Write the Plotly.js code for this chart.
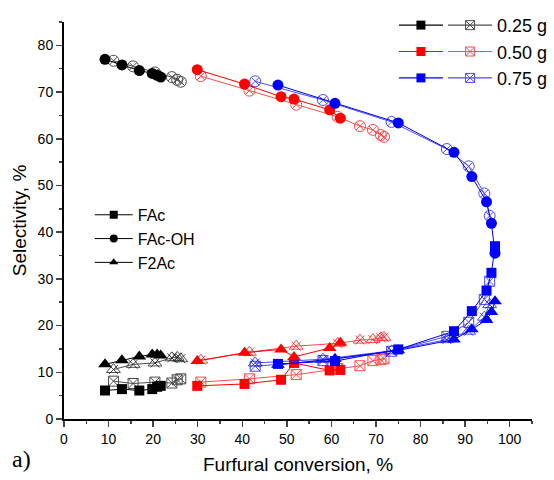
<!DOCTYPE html>
<html><head><meta charset="utf-8">
<script src="https://cdn.plot.ly/plotly-3.0.1.min.js"></script>
<style>body{margin:0;background:#fff}#c{width:554px;height:480px}</style>
</head><body><div id="c"></div>
<script>
// 0.25 g
const x025f = [9.2, 13.0, 16.9, 19.8, 20.9, 21.7];
const fac025f = [6.1, 6.4, 6.1, 6.4, 6.9, 7.1];
const faoh025f = [77.0, 75.8, 74.6, 74.0, 73.6, 73.2];
const f2ac025f = [11.7, 12.6, 13.4, 13.8, 13.8, 13.6];
const x025o = [11.1, 15.5, 20.4, 24.2, 25.4, 26.2];
const fac025o = [8.1, 7.6, 7.9, 7.7, 8.4, 8.6];
const faoh025o = [76.7, 75.5, 74.2, 73.2, 72.6, 72.2];
const f2ac025o = [10.6, 11.7, 12.0, 13.1, 13.2, 12.9];
// 0.50 g
const x050f = [29.9, 40.5, 48.7, 51.6, 59.6, 62.0];
const fac050f = [7.1, 7.5, 8.4, 12.0, 10.4, 10.5];
const faoh050f = [74.8, 71.7, 69.0, 68.5, 66.2, 64.4];
const f2ac050f = [12.4, 14.2, 14.9, 13.3, 15.2, 16.3];
const x050o = [30.7, 41.6, 52.1, 61.4, 66.4, 69.3, 71.1, 71.8];
const fac050o = [7.9, 8.6, 9.5, 10.8, 11.4, 12.5, 12.7, 12.9];
const faoh050o = [73.4, 70.3, 67.3, 64.7, 62.7, 61.9, 60.8, 60.4];
const f2ac050o = [12.6, 14.3, 15.6, 16.2, 16.9, 17.0, 17.4, 17.5];
// 0.75 g
const x075f = [48.0, 60.8, 75.0, 87.5, 91.5, 94.8, 95.9, 96.7];
const fac075f = [11.8, 12.4, 14.9, 18.8, 23.1, 27.5, 31.3, 37.0];
const faoh075f = [71.5, 67.6, 63.4, 57.1, 51.9, 46.5, 41.9, 35.5];
const f2ac075f = [11.6, 12.9, 14.7, 17.0, 19.2, 21.2, 22.9, 25.2];
const x075o = [42.9, 58.1, 73.5, 85.9, 90.8, 94.3, 95.5];
const fac075o = [11.3, 12.5, 14.5, 17.7, 20.7, 25.6, 29.5];
const faoh075o = [72.3, 68.3, 63.6, 57.8, 54.1, 48.3, 43.5];
const f2ac075o = [12.0, 12.8, 14.6, 17.0, 18.8, 21.8, 24.5];

const massLabels = ['0.25 g', '0.50 g', '0.75 g'];
const compLabels = ['FAc', 'FAc-OH', 'F2Ac'];
const colors = ['#000000', '#ff0000', '#0000ff'];

const sets = [
  {xf: x025f, f: [fac025f, faoh025f, f2ac025f], xo: x025o, o: [fac025o, faoh025o, f2ac025o]},
  {xf: x050f, f: [fac050f, faoh050f, f2ac050f], xo: x050o, o: [fac050o, faoh050o, f2ac050o]},
  {xf: x075f, f: [fac075f, faoh075f, f2ac075f], xo: x075o, o: [fac075o, faoh075o, f2ac075o]}
];
const fSym = ['square', 'circle', 'triangle-up'];
const fSize = [10, 11, 12];
const oSym = ['square-x-open', 'circle-x-open', 'triangle-up-open'];
const oSize = [10, 11, 12];

const traces = [];
sets.forEach((s, i) => {
  const col = colors[i];
  for (let k = 0; k < 3; k++) {
    traces.push({x: s.xo, y: s.o[k], type: 'scatter', mode: 'lines+markers', showlegend: false,
      opacity: 0.7, line: {color: col, width: 1},
      marker: {symbol: oSym[k], size: oSize[k], color: col, line: {width: 1, color: col}}});
    if (k === 2) {
      traces.push({x: s.xo, y: s.o[k], type: 'scatter', mode: 'markers', showlegend: false,
        opacity: 0.7, marker: {symbol: 'x-thin-open', size: 9, color: col, line: {width: 1, color: col}}});
    }
  }
  for (let k = 0; k < 3; k++) {
    traces.push({x: s.xf, y: s.f[k], type: 'scatter', mode: 'lines+markers', showlegend: false,
      line: {color: col, width: 1},
      marker: {symbol: fSym[k], size: fSize[k], color: col}});
  }
});
// legend samples: component legend
compLabels.forEach((n, k) => {
  traces.push({x: [null], y: [null], type: 'scatter', mode: 'lines+markers', name: n, legend: 'legend',
    line: {color: '#000', width: 1}, marker: {symbol: fSym[k], size: 8, color: '#000'}});
});
// mass legends
massLabels.forEach((n, i) => {
  traces.push({x: [null], y: [null], type: 'scatter', mode: 'lines+markers', name: ' ', legend: 'legend3',
    line: {color: colors[i], width: 1.2}, marker: {symbol: 'square', size: 9, color: colors[i]}});
  traces.push({x: [null], y: [null], type: 'scatter', mode: 'lines+markers', name: n, legend: 'legend2',
    opacity: 0.7, line: {color: colors[i], width: 1.2}, marker: {symbol: 'square-x-open', size: 9, color: colors[i]}});
});

const F = 'Liberation Sans, Arial, sans-serif';
const layout = {
  width: 554, height: 480,
  margin: {l: 64, r: 22, t: 22, b: 61, autoexpand: false},
  paper_bgcolor: '#fff', plot_bgcolor: '#fff',
  font: {family: F, color: '#000', size: 14},
  xaxis: {range: [0, 105], tick0: 0, dtick: 10, ticks: 'outside', ticklen: 6, tickwidth: 1.5,
    showline: true, linewidth: 2, linecolor: '#000', showgrid: false, zeroline: false, automargin: false,
    minor: {dtick: 5, ticks: 'outside', ticklen: 3, tickwidth: 1.5, showgrid: false},
    tickfont: {size: 14, family: F},
    title: {text: 'Furfural conversion, %', font: {size: 19, family: F}, standoff: 12}},
  yaxis: {range: [0, 85], tick0: 0, dtick: 10, ticks: 'outside', ticklen: 6, tickwidth: 1.5,
    showline: true, linewidth: 2, linecolor: '#000', showgrid: false, zeroline: false, automargin: false,
    minor: {dtick: 5, ticks: 'outside', ticklen: 3, tickwidth: 1.5, showgrid: false},
    tickfont: {size: 14, family: F},
    title: {text: 'Selectivity, %', font: {size: 19, family: F}, standoff: 6}},
  legend: {x: 0.055, y: 0.557, xanchor: 'left', yanchor: 'top', bgcolor: 'rgba(0,0,0,0)',
    font: {size: 16, family: F}, itemwidth: 38, tracegroupgap: 0},
  legend2: {x: 0.81, y: 1.038, xanchor: 'left', yanchor: 'top', bgcolor: 'rgba(0,0,0,0)',
    font: {size: 18, family: F}, itemwidth: 44},
  legend3: {x: 0.705, y: 1.038, xanchor: 'left', yanchor: 'top', bgcolor: 'rgba(0,0,0,0)',
    font: {size: 18, family: F}, itemwidth: 44},
  annotations: [{text: 'a)', xref: 'paper', yref: 'paper', x: -0.115, y: -0.1, xanchor: 'left', yanchor: 'middle',
    showarrow: false, font: {family: 'Liberation Serif, Times New Roman, serif', size: 24}}]
};
Plotly.newPlot('c', traces, layout, {displayModeBar: false, staticPlot: true});
</script></body></html>
